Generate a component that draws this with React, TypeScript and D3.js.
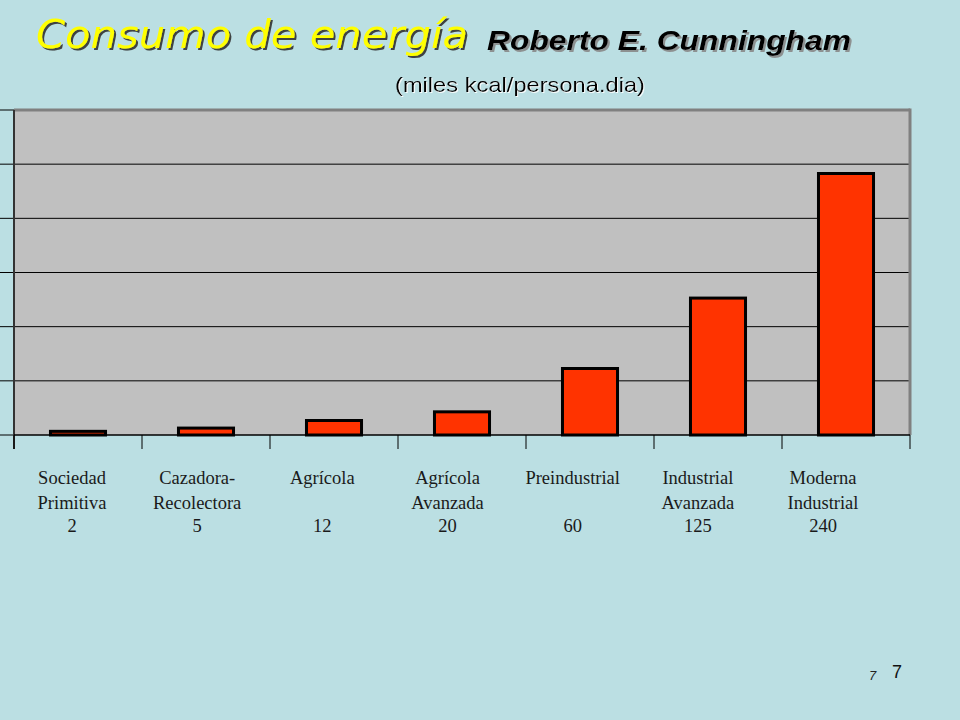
import React from "react";
import * as d3 from "d3";

const categories = ["Sociedad Primitiva", "Cazadora-Recolectora", "Agrícola", "Agrícola Avanzada", "Preindustrial", "Industrial Avanzada", "Moderna Industrial"];
const labelLine1 = ["Sociedad", "Cazadora-", "Agrícola", "Agrícola", "Preindustrial", "Industrial", "Moderna"];
const labelLine2 = ["Primitiva", "Recolectora", "", "Avanzada", "", "Avanzada", "Industrial"];
const values = [2, 5, 12, 20, 60, 125, 240];
const valueLabels = ["2", "5", "12", "20", "60", "125", "240"];
const yTicks = [0, 50, 100, 150, 200, 250, 300];

const W = 960, H = 720;
const left = 14, right = 910, top = 110, bottom = 435;

export default function App() {
  const x = d3.scaleBand<string>().domain(categories).range([left, right]).paddingInner(0.57).paddingOuter(0.285);
  const step = x.step();
  const y = d3.scaleLinear().domain([0, 300]).range([bottom, top]);
  const lx = d3.scalePoint<string>().domain(categories).range([72, 823]);
  const boundaries = categories.map((c) => (x(c) as number) - (step * 0.57) / 2).concat([right]);

  return (
    <div style={{ position: "absolute", left: 0, top: 0 }}>
      <svg width={W} height={H} style={{ display: "block" }}>
        <defs>
          <filter id="shDark" x="-5%" y="-20%" width="110%" height="150%">
            <feDropShadow dx={2} dy={2} stdDeviation={0.6} floodColor="#333" floodOpacity={0.9} />
          </filter>
          <filter id="shGray" x="-5%" y="-20%" width="110%" height="150%">
            <feDropShadow dx={2} dy={2} stdDeviation={0.6} floodColor="#888" floodOpacity={0.9} />
          </filter>
          <filter id="shLight" x="-5%" y="-20%" width="110%" height="150%">
            <feDropShadow dx={1} dy={1} stdDeviation={0.4} floodColor="#fff" floodOpacity={0.9} />
          </filter>
        </defs>
        <rect x={0} y={0} width={W} height={H} fill="#bbdfe3" />
        {/* Titles */}
        <text x={36} y={48} filter="url(#shDark)" fontFamily="'DejaVu Sans', sans-serif" fontStyle="oblique" fontSize={39} fill="#ffff00" textLength={432} lengthAdjust="spacingAndGlyphs">Consumo de energía</text>
        <text x={487} y={50} filter="url(#shGray)" fontFamily="'Liberation Sans', Arial, sans-serif" fontStyle="italic" fontWeight="bold" fontSize={28} fill="#000" textLength={364} lengthAdjust="spacingAndGlyphs">Roberto E. Cunningham</text>
        <text x={395} y={92} filter="url(#shLight)" fontFamily="'Liberation Sans', Arial, sans-serif" fontSize={21} fill="#000" textLength={250} lengthAdjust="spacingAndGlyphs">(miles kcal/persona.dia)</text>

        {/* Plot area */}
        <rect x={left} y={top} width={right - left} height={bottom - top} fill="#c0c0c0" />
        {yTicks.filter((t) => t > 0 && t < 300).map((t) => (
          <line key={"g" + t} x1={left} x2={right} y1={y(t)} y2={y(t)} stroke="#000" strokeWidth={1} />
        ))}
        <line x1={left} x2={right} y1={top} y2={top} stroke="#808080" strokeWidth={3} />
        <line x1={right} x2={right} y1={top - 1.5} y2={bottom} stroke="#808080" strokeWidth={3} />
        {yTicks.map((t) => (
          <line key={"yt" + t} x1={0} x2={left} y1={y(t)} y2={y(t)} stroke="#000" strokeWidth={1} />
        ))}
        {/* Bars (outline drawn outside the value) */}
        {categories.map((c, i) => (
          <rect key={c} x={x(c)} y={y(values[i]) - 1.5} width={x.bandwidth()} height={bottom - y(values[i]) + 1.5} fill="#ff3300" stroke="#000" strokeWidth={3} />
        ))}
        {/* Axes */}
        <line x1={left} x2={left} y1={top} y2={bottom + 14} stroke="#333" strokeWidth={2} />
        <line x1={left} x2={right} y1={bottom} y2={bottom} stroke="#000" strokeWidth={1.5} />
        {boundaries.map((b, i) => (
          <line key={"xt" + i} x1={b} x2={b} y1={bottom} y2={bottom + 14} stroke="#000" strokeWidth={1} />
        ))}
        {/* Labels */}
        {categories.map((c, i) => (
          <g key={"l" + c} fontFamily="'Liberation Serif', 'Times New Roman', serif" fontSize={18.5} fill="#1a1a1a" textAnchor="middle">
            <text x={lx(c)} y={484}>{labelLine1[i]}</text>
            {labelLine2[i] && <text x={lx(c)} y={509}>{labelLine2[i]}</text>}
            <text x={lx(c)} y={532}>{valueLabels[i]}</text>
          </g>
        ))}
        {/* Page numbers */}
        <text x={869} y={680} fontFamily="'Liberation Sans', Arial, sans-serif" fontStyle="italic" fontSize={13} fill="#222">7</text>
        <text x={892} y={678} fontFamily="'Liberation Sans', Arial, sans-serif" fontSize={18} fill="#111">7</text>
      </svg>
    </div>
  );
}
